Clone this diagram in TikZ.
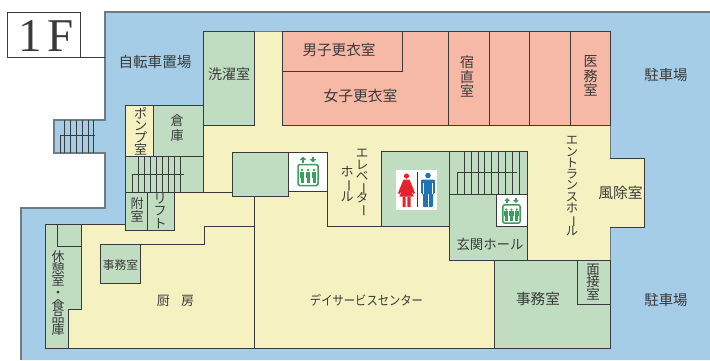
\documentclass[tikz,border=0pt]{standalone}
\usepackage{fontspec}
\usepackage{graphicx}
\setmainfont{Liberation Serif}
\newfontfamily\cjk{Noto Sans CJK JP}
\definecolor{sky}{HTML}{A6CDE8}
\definecolor{cream}{HTML}{F5F1C1}
\definecolor{leaf}{HTML}{C0DDC2}
\definecolor{rose}{HTML}{F6B9A6}
\definecolor{ink}{HTML}{3A3A3A}
\definecolor{edge}{HTML}{6E7B80}
\definecolor{evgreen}{HTML}{3A9E5C}
\definecolor{wred}{HTML}{E5232F}
\definecolor{mblue}{HTML}{1F74B8}
\newcommand{\vbar}{\rotatebox[origin=c]{-90}{ー}}
\newcommand{\tightlines}{\lineskiplimit=-50pt\relax}
\tikzset{
 wall/.style={draw=ink,line width=0.8pt},
 tread/.style={draw=ink,line width=0.6pt},
 lab/.style={font=\cjk\fontsize{#1}{#1}\selectfont,text=ink,inner sep=0pt,align=center},
 vlab/.style 2 args={font={\cjk\fontsize{#1}{#2}\selectfont\tightlines},text=ink,inner sep=0pt,align=center},
 pics/lifticon/.style={code={
  \draw[evgreen,line width=1.5pt,rounded corners=1.5pt,fill=white] (-10,-10.5) rectangle (10,10.5);
  \foreach \px in {-6,0,6}{
   \fill[evgreen] (\px,-5) circle (1.4);
   \fill[evgreen] (\px-2.4,-3.2) rectangle (\px+2.4,2.5);
   \fill[evgreen] (\px-1.5,2.5) rectangle (\px+1.5,8);
  }
  \fill[evgreen] (-5,-18.5) -- (-8.2,-15) -- (-1.8,-15) -- cycle;
  \fill[evgreen] (-5.9,-15.5) rectangle (-4.1,-12.5);
  \fill[evgreen] (5,-12.5) -- (1.8,-16) -- (8.2,-16) -- cycle;
  \fill[evgreen] (4.1,-18.5) rectangle (5.9,-15.5);
 }},
}
\begin{document}
\begin{tikzpicture}[x=1pt,y=-1pt]
\useasboundingbox (0,0) rectangle (710,360);
\fill[white] (0,0) rectangle (710,360);
% site
\fill[sky] (105,12) -- (710,12) -- (710,360) -- (21,360) -- (21,208) -- (105,208) -- (105,153) -- (54,153) -- (54,120) -- (105,120) -- cycle;
\draw[edge,line width=1.1pt] (710,12) -- (105,12) -- (105,120) -- (54,120) -- (54,153) -- (105,153) -- (105,208) -- (21,208) -- (21,360);
% title
\draw[ink,line width=0.7pt] (7,12) rectangle (80,57);
\draw[ink,line width=0.7pt] (80,57) -- (105,57);
\node[font=\fontsize{47}{47}\selectfont,text=ink,inner sep=0pt] (title) at (46,36) {1\hspace{6pt}F};
% building
\fill[cream] (203,31) -- (282,31) -- (282,125) -- (610,125) -- (610,158) -- (644,158) -- (644,227) -- (610,227) -- (610,348) -- (45,348) -- (45,224) -- (125,224) -- (125,105) -- (203,105) -- cycle;
\draw[edge,line width=1pt] (254,31) -- (282,31) (610,125) -- (610,158) (610,227) -- (610,260);
\draw[wall] (610,158) -- (644,158) -- (644,227) -- (610,227);
\draw[wall] (45,348) -- (610,348);
\draw[wall] (81,224) -- (125,224);
% pink rooms
\filldraw[fill=rose,wall] (282,31) rectangle (610,125);
\draw[wall] (282,71) -- (402,71) -- (402,31);
\foreach \wx in {448,489,529,570} \draw[wall] (\wx,31) -- (\wx,125);
% green rooms
\filldraw[fill=leaf,wall] (203,31) rectangle (254,125);
\filldraw[fill=cream,wall] (125,105) rectangle (153,156);
\filldraw[fill=leaf,wall] (153,105) rectangle (203,156);
\filldraw[fill=leaf,wall] (125,156) rectangle (203,192);
\filldraw[fill=leaf,wall] (125,192) rectangle (147,230);
\filldraw[fill=leaf,wall] (147,192) rectangle (174,230);
\draw[wall] (203,192) -- (232,192);
\filldraw[fill=leaf,wall] (45,224) -- (81,224) -- (81,309) -- (68,309) -- (68,348) -- (45,348) -- cycle;
\draw[wall] (57,224) -- (57,246) -- (81,246);
\draw[wall] (100,244) -- (204,244) -- (204,226) -- (254,226);
\filldraw[fill=leaf,wall] (100,244) rectangle (140,283);
\draw[wall] (254,196) -- (254,348);
\filldraw[fill=leaf,wall] (232,152) rectangle (288,196);
\filldraw[fill=white,wall] (288,152) rectangle (327,191);
\draw[wall] (327,152) -- (327,226) -- (381,226);
\filldraw[fill=leaf,wall] (381,151) rectangle (449,226);
\filldraw[fill=leaf,wall] (449,151) rectangle (527,260);
\draw[wall] (449,194) -- (527,194);
\filldraw[fill=white,wall] (496,194) rectangle (527,226);
\filldraw[fill=leaf,wall] (494,260) rectangle (610,348);
\draw[wall] (577,260) -- (577,304) -- (610,304);
% stairs
\foreach \sx in {64,70,76,82,88,93} \draw[tread] (\sx,120) -- (\sx,153);
\draw[tread] (95,135) -- (60,135) -- (60,153);
\foreach \sx in {138,144,150,156,162,168,174,180} \draw[tread] (\sx,156) -- (\sx,192);
\draw[tread] (184,174) -- (132,174) -- (132,192);
\foreach \sx in {464.3,471.3,478,484.7,491.7,498.3,505.3,512,519.3} \draw[tread] (\sx,151) -- (\sx,194);
\draw[tread] (517,172) -- (457,172) -- (457,194);
% lifts
\pic at (308,175) {lifticon};
\pic[scale=0.87] at (511.5,214) {lifticon};
% toilet sign
\fill[white] (396,170) rectangle (437,210);
\draw[ink,line width=0.8pt] (417,172) -- (417,207);
\fill[wred] (406.5,176) circle (2.6);
\fill[wred] (403.5,179.5) -- (409.5,179.5) -- (415,193) -- (413.5,194) -- (411,190) -- (413.5,196.5) -- (399.5,196.5) -- (402,190) -- (399.5,194) -- (398,193) -- cycle;
\fill[wred] (402.5,196.5) rectangle (405.7,207) (407.3,196.5) rectangle (410.5,207);
\fill[mblue] (428,175.5) circle (2.8);
\fill[mblue,rounded corners=1pt] (421,179.5) -- (435,179.5) -- (435,193.5) -- (433,193.5) -- (433,207) -- (423,207) -- (423,193.5) -- (421,193.5) -- cycle;
\draw[white,line width=0.5pt] (428,194) -- (428,207) (423.5,183) -- (423.5,193.5) (432.5,183) -- (432.5,193.5);
% labels
\node[lab=14.6] (t1) at (155,61.5) {自転車置場};
\node[lab=14] (t2) at (229,74) {洗濯室};
\node[lab=14.6] (t3) at (339,50) {男子更衣室};
\node[lab=14.8] (t4) at (360.5,96) {女子更衣室};
\node[vlab={14}{14.5}] (t5) at (467,76.5) {宿\\直\\室};
\node[vlab={14}{14.5}] (t6) at (590.5,76) {医\\務\\室};
\node[lab=14.4] (t7) at (666,75) {駐車場};
\node[lab=14.4] (t8) at (666,300) {駐車場};
\node[vlab={13}{12}] (t9) at (140.5,131.5) {ポ\\ン\\プ\\室};
\node[vlab={13}{15}] (t10) at (177,128) {倉\\庫};
\node[vlab={13}{13}] (t11) at (137,210) {附\\室};
\node[vlab={13}{12.5}] (t12) at (160,211) {リ\\フ\\ト};
\node[vlab={13}{12.3}] (t13) at (58,293) {休\\憩\\室\\・\\食\\品\\庫};
\node[lab=11.7] (t14) at (120.5,265) {事務室};
\node[lab=13] (t15) at (175.5,300.5) {厨\hspace{0.85em}房};
\node[lab=13] (t16) at (366.5,300) {\scalebox{0.87}[1]{デイサービスセンター}};
\node[vlab={12.5}{11.2}] (t17) at (362,183.5) {エ\\レ\\ベ\\\vbar\\タ\\\vbar};
\node[vlab={13}{12.3}] (t18) at (347,184) {ホ\\\vbar\\ル};
\node[vlab={12.3}{11.3}] (t19) at (572,186) {エ\\ン\\ト\\ラ\\ン\\ス\\ホ\\\vbar\\ル};
\node[lab=14.8] (t20) at (620.5,193) {風除室};
\node[lab=13.4] (t21) at (490,244) {玄関ホール};
\node[lab=14.6] (t22) at (538,299) {事務室};
\node[vlab={13.5}{12.7}] (t23) at (593,282) {面\\接\\室};
\end{tikzpicture}
\end{document}
